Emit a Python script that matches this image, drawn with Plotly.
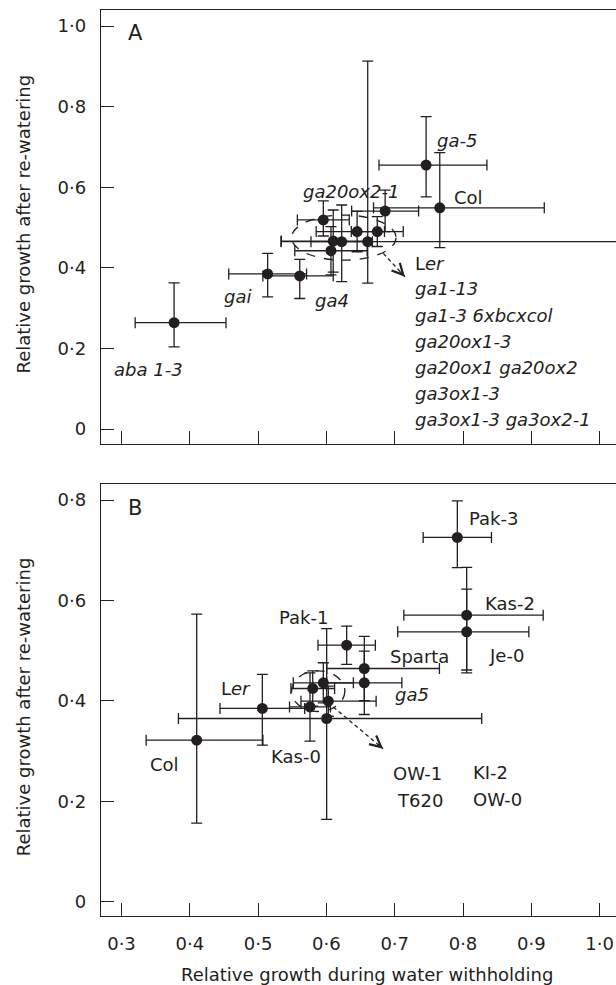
import plotly.graph_objects as go

# ---------------- Panel A data ----------------
a_names = ["aba 1-3", "gai", "ga4", "ga-5", "Col", "ga20ox2-1",
           "c1", "c2", "c3", "c4", "c5", "c6", "c7"]
a_x = [0.377, 0.514, 0.561, 0.746, 0.766, 0.686,
       0.5955, 0.645, 0.6745, 0.610, 0.6224, 0.6605, 0.6067]
a_y = [0.264, 0.385, 0.380, 0.655, 0.549, 0.541,
       0.519, 0.490, 0.490, 0.4665, 0.465, 0.465, 0.4425]
a_xm = [0.057, 0.057, 0.054, 0.069, 0.097, 0.049,
        0.038, 0.060, 0.038, 0.076, 0.045, 0.127, 0.053]
a_xp = [0.076, 0.057, 0.049, 0.089, 0.153, 0.049,
        0.038, 0.040, 0.038, 0.050, 0.045, 0.500, 0.053]
a_ym = [0.060, 0.057, 0.056, 0.079, 0.099, 0.051,
        0.040, 0.050, 0.037, 0.077, 0.099, 0.103, 0.060]
a_yp = [0.099, 0.051, 0.041, 0.120, 0.137, 0.052,
        0.047, 0.050, 0.037, 0.077, 0.091, 0.448, 0.060]

# ---------------- Panel B data ----------------
b_names = ["Pak-3", "Kas-2", "Je-0", "Pak-1", "Sparta", "ga5", "Ler", "Col",
           "Kas-0", "c1", "c2", "c3", "c4"]
b_x = [0.7917, 0.8054, 0.8054, 0.6297, 0.6555, 0.6555, 0.5062, 0.4101,
       0.576, 0.5955, 0.580, 0.6028, 0.6004]
b_y = [0.7256, 0.5708, 0.5376, 0.511, 0.4646, 0.436, 0.385, 0.3218,
       0.388, 0.436, 0.4248, 0.3995, 0.365]
b_xm = [0.050, 0.092, 0.101, 0.042, 0.055, 0.055, 0.062, 0.074,
        0.030, 0.044, 0.032, 0.040, 0.217]
b_xp = [0.050, 0.112, 0.091, 0.042, 0.110, 0.055, 0.062, 0.097,
        0.030, 0.044, 0.032, 0.070, 0.227]
b_ym = [0.060, 0.115, 0.076, 0.038, 0.064, 0.063, 0.073, 0.165,
        0.068, 0.040, 0.035, 0.030, 0.201]
b_yp = [0.073, 0.095, 0.085, 0.038, 0.064, 0.063, 0.068, 0.251,
        0.068, 0.040, 0.035, 0.030, 0.179]

# ---------------- labels ----------------
a_lab_text = ["<i>ga-5</i>", "Col", "<i>ga20ox2-1</i>", "L<i>er</i>",
              "<i>ga1-13</i>", "<i>ga1-3 6xbcxcol</i>", "<i>ga20ox1-3</i>",
              "<i>ga20ox1 ga20ox2</i>", "<i>ga3ox1-3</i>",
              "<i>ga3ox1-3 ga3ox2-1</i>", "<i>gai</i>", "<i>ga4</i>",
              "<i>aba 1-3</i>", "A"]
a_lab_x = [0.759, 0.784, 0.636, 0.727, 0.727, 0.727, 0.727, 0.727, 0.727,
           0.727, 0.4925, 0.5804, 0.2861, 0.3198]
a_lab_y = [0.717, 0.5757, 0.589, 0.412, 0.348, 0.281, 0.2166, 0.152,
           0.0886, 0.024, 0.328, 0.320, 0.148, 0.9826]
a_lab_anchor = ["left", "left", "center", "left", "left", "left", "left",
                "left", "left", "left", "right", "left", "left", "center"]

b_lab_text = ["Pak-3", "Kas-2", "Je-0", "Pak-1", "Sparta", "<i>ga5</i>",
              "L<i>er</i>", "Col", "Kas-0", "OW-1", "KI-2", "T620", "OW-0", "B"]
b_lab_x = [0.8063, 0.8297, 0.8347, 0.5281, 0.6906, 0.698, 0.4432, 0.3392,
           0.5164, 0.6941, 0.8113, 0.7004, 0.8113, 0.3198]
b_lab_y = [0.7635, 0.594, 0.4911, 0.5655, 0.4891, 0.4134, 0.4248, 0.274,
           0.2885, 0.2554, 0.2566, 0.2022, 0.2036, 0.7834]

# dashed cluster ellipses and arrows (data coords)
a_ellipse = [0.549, 0.702, 0.419, 0.531]
b_ellipse = [0.549, 0.627, 0.379, 0.460]
a_arrow_x = [0.6833, 0.715]
a_arrow_y = [0.436, 0.378]
b_arrow_x = [0.610, 0.683]
b_arrow_y = [0.388, 0.305]

x_ticks = [0.3, 0.4, 0.5, 0.6, 0.7, 0.8, 0.9, 1.0]
x_ticktext = ["0·3", "0·4", "0·5", "0·6", "0·7", "0·8", "0·9", "1·0"]
ya_ticks = [0, 0.2, 0.4, 0.6, 0.8, 1.0]
ya_ticktext = ["0", "0·2", "0·4", "0·6", "0·8", "1·0"]
yb_ticks = [0, 0.2, 0.4, 0.6, 0.8]
yb_ticktext = ["0", "0·2", "0·4", "0·6", "0·8"]

INK = "#231f20"
FONT = "DejaVu Sans"
FS = 18
LW = 1.3

fig = go.Figure()


def add_points(xs, ys, xm, xp, ym, yp, xa, ya):
    fig.add_trace(go.Scatter(
        x=xs, y=ys, mode="markers", xaxis=xa, yaxis=ya,
        marker=dict(color=INK, size=11),
        error_x=dict(type="data", symmetric=False, array=xp, arrayminus=xm,
                     color=INK, thickness=LW, width=5.5),
        error_y=dict(type="data", symmetric=False, array=yp, arrayminus=ym,
                     color=INK, thickness=LW, width=5.5),
        showlegend=False, hoverinfo="skip"))


add_points(a_x, a_y, a_xm, a_xp, a_ym, a_yp, "x", "y")
add_points(b_x, b_y, b_xm, b_xp, b_ym, b_yp, "x2", "y2")

shapes = []
annotations = []
for ell, xr, yr in [(a_ellipse, "x", "y"), (b_ellipse, "x2", "y2")]:
    shapes.append(dict(type="circle", xref=xr, yref=yr,
                       x0=ell[0], x1=ell[1], y0=ell[2], y1=ell[3],
                       line=dict(color=INK, width=LW, dash="dash")))

# arrow head pixel offsets (direction of each arrow on screen)
head_dirs = [(-22, -24), (-50, -42)]
for (ax_, ay_, xr, yr), (hx, hy) in zip(
        [(a_arrow_x, a_arrow_y, "x", "y"), (b_arrow_x, b_arrow_y, "x2", "y2")],
        head_dirs):
    fig.add_trace(go.Scatter(x=ax_, y=ay_, mode="lines", xaxis=xr, yaxis=yr,
                             line=dict(color=INK, width=LW, dash="4px,3px"),
                             showlegend=False, hoverinfo="skip"))
    norm = (hx ** 2 + hy ** 2) ** 0.5
    annotations.append(dict(x=ax_[1], y=ay_[1], ax=hx / norm * 9,
                            ay=hy / norm * 9, xref=xr, yref=yr, text="",
                            showarrow=True, arrowhead=5, arrowsize=1.7,
                            arrowwidth=LW, arrowcolor=INK, standoff=0))

for t, x, y, anc in zip(a_lab_text, a_lab_x, a_lab_y, a_lab_anchor):
    annotations.append(dict(x=x, y=y, xref="x", yref="y", text=t,
                            showarrow=False, xanchor=anc, yanchor="middle",
                            font=dict(family=FONT, size=21 if t == "A" else FS,
                                      color=INK)))
for t, x, y in zip(b_lab_text, b_lab_x, b_lab_y):
    annotations.append(dict(x=x, y=y, xref="x2", yref="y2", text=t,
                            showarrow=False,
                            xanchor="center" if t == "B" else "left",
                            yanchor="middle",
                            font=dict(family=FONT, size=21 if t == "B" else FS,
                                      color=INK)))

FIG_W = 700
PLOT_W = FIG_W - 101

# axis titles (pixel positions converted to paper fractions)
ytitle_x = (23 - 101) / PLOT_W
annotations.append(dict(x=ytitle_x, y=0.5 * (0.5205 + 1) + 0.003, xref="paper",
                        yref="paper", text="Relative growth after re-watering",
                        textangle=-90, showarrow=False, xanchor="center",
                        yanchor="middle",
                        font=dict(family=FONT, size=FS, color=INK)))
annotations.append(dict(x=ytitle_x, y=0.5 * 0.4767 - 0.008, xref="paper",
                        yref="paper", text="Relative growth after re-watering",
                        textangle=-90, showarrow=False, xanchor="center",
                        yanchor="middle",
                        font=dict(family=FONT, size=FS, color=INK)))
annotations.append(dict(x=(367 - 101) / PLOT_W, y=-0.0645, xref="paper",
                        yref="paper",
                        text="Relative growth during water withholding",
                        showarrow=False, xanchor="center", yanchor="middle",
                        font=dict(family=FONT, size=FS, color=INK)))

x_right = 0.3 + (FIG_W - 121.5) / 683
xcommon = dict(range=[0.27, x_right], tickvals=x_ticks, ticktext=x_ticktext,
               ticks="inside", ticklen=13, tickwidth=LW, tickcolor=INK,
               showline=True, mirror=True, linecolor=INK, linewidth=LW,
               showgrid=False, zeroline=False, domain=[0, 1],
               tickfont=dict(family=FONT, size=FS, color=INK))
ycommon = dict(ticks="inside", ticklen=13, tickwidth=LW, tickcolor=INK,
               showline=True, mirror=False, linecolor=INK, linewidth=LW,
               showgrid=False, zeroline=False, ticklabelstandoff=10,
               tickfont=dict(family=FONT, size=FS, color=INK))

fig.update_layout(
    width=FIG_W, height=985,
    margin=dict(l=101, r=0, t=10, b=69),
    paper_bgcolor="white", plot_bgcolor="white",
    font=dict(family=FONT, size=FS, color=INK),
    xaxis=dict(**xcommon, anchor="y", showticklabels=False),
    yaxis=dict(**ycommon, range=[-0.038, 1.0397], domain=[0.5205, 1],
               tickvals=ya_ticks, ticktext=ya_ticktext, anchor="x"),
    xaxis2=dict(**xcommon, anchor="y2", ticklabelstandoff=11),
    yaxis2=dict(**ycommon, range=[-0.0283, 0.8318], domain=[0, 0.4767],
                tickvals=yb_ticks, ticktext=yb_ticktext, anchor="x2"),
    shapes=shapes, annotations=annotations,
)

fig.write_html("out.html", config={"displayModeBar": False},
               post_script="document.body.style.margin='0px';"
                           "document.body.style.overflow='hidden';")
